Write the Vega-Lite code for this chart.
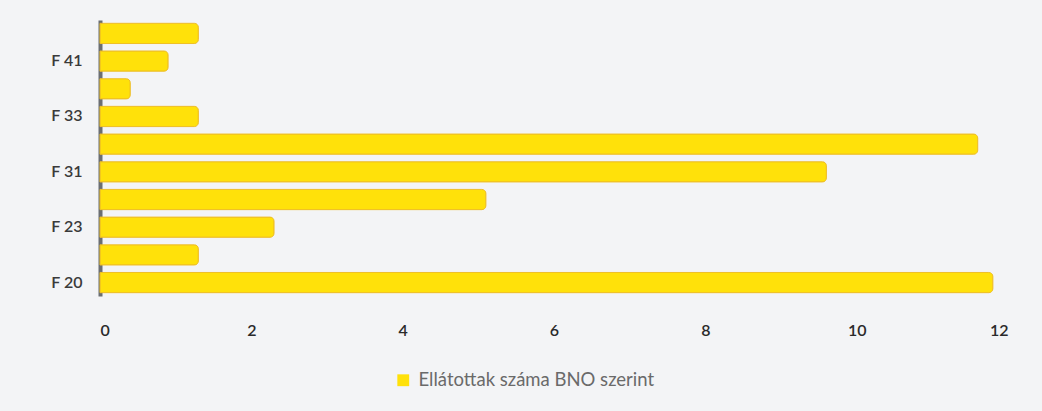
{
  "$schema": "https://vega.github.io/schema/vega-lite/v6.json",
  "width": 908,
  "height": 276,
  "autosize": {"type": "none"},
  "padding": {"left": 100, "top": 20, "right": 34, "bottom": 115},
  "background": "#f3f4f6",
  "config": {"view": {"stroke": null}, "font": "Lato"},
  "data": {
    "values": [
      {"kod": "F 42", "n": 1.3, "sorozat": "Ellátottak száma BNO szerint"},
      {"kod": "F 41", "n": 0.9, "sorozat": "Ellátottak száma BNO szerint"},
      {"kod": "F 40", "n": 0.4, "sorozat": "Ellátottak száma BNO szerint"},
      {"kod": "F 33", "n": 1.3, "sorozat": "Ellátottak száma BNO szerint"},
      {"kod": "F 32", "n": 11.6, "sorozat": "Ellátottak száma BNO szerint"},
      {"kod": "F 31", "n": 9.6, "sorozat": "Ellátottak száma BNO szerint"},
      {"kod": "F 25", "n": 5.1, "sorozat": "Ellátottak száma BNO szerint"},
      {"kod": "F 23", "n": 2.3, "sorozat": "Ellátottak száma BNO szerint"},
      {"kod": "F 22", "n": 1.3, "sorozat": "Ellátottak száma BNO szerint"},
      {"kod": "F 20", "n": 11.8, "sorozat": "Ellátottak száma BNO szerint"}
    ]
  },
  "mark": {"type": "bar", "cornerRadiusEnd": 4, "stroke": "#efbf25", "strokeWidth": 1},
  "encoding": {
    "y": {
      "field": "kod",
      "type": "nominal",
      "sort": null,
      "scale": {"paddingInner": 0.27, "paddingOuter": 0.12},
      "axis": {
        "title": null,
        "values": ["F 20", "F 23", "F 31", "F 33", "F 41"],
        "ticks": false,
        "domainColor": "#6b6e72",
        "domainWidth": 4,
        "labelFontSize": 16,
        "labelFontWeight": 600,
        "labelColor": "#3a3a3a",
        "labelPadding": 18,
        "labelFont": "Lato"
      }
    },
    "x": {
      "field": "n",
      "type": "quantitative",
      "scale": {"domain": [0, 12], "nice": false},
      "axis": {
        "title": null,
        "values": [0, 2, 4, 6, 8, 10, 12],
        "grid": false,
        "domain": false,
        "ticks": false,
        "labelFontSize": 16,
        "labelFontWeight": 600,
        "labelColor": "#2a2a2a",
        "labelPadding": 26,
        "labelFont": "Lato"
      }
    },
    "color": {
      "field": "sorozat",
      "type": "nominal",
      "scale": {"range": ["#ffe10a"]},
      "legend": {
        "title": null,
        "orient": "none",
        "legendX": 294,
        "legendY": 351,
        "symbolType": "square",
        "symbolSize": 140,
        "symbolStrokeWidth": 0,
        "labelFontSize": 18.5,
        "labelLimit": 0,
        "labelOffset": 6,
        "labelColor": "#6a6a6a",
        "labelFont": "Lato"
      }
    }
  }
}
